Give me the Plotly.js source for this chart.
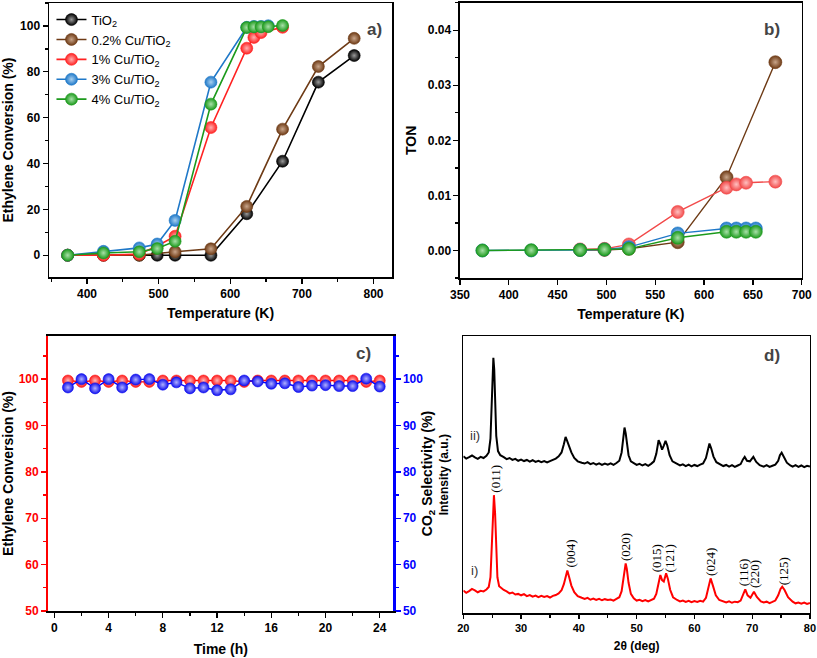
<!DOCTYPE html>
<html><head><meta charset="utf-8">
<script src="https://cdn.plot.ly/plotly-3.0.1.min.js"></script>
<style>html,body{margin:0;padding:0;background:#fff}#plot{width:817px;height:658px}</style>
</head><body><div id="plot"></div>
<script>
// ---------- Panel a: ethylene conversion vs temperature ----------
const seriesNames = ['TiO<sub>2</sub>', '0.2% Cu/TiO<sub>2</sub>', '1% Cu/TiO<sub>2</sub>', '3% Cu/TiO<sub>2</sub>', '4% Cu/TiO<sub>2</sub>'];
const tempTiO2 = [373, 423, 473, 498, 523, 573, 623, 673, 723, 773];
const convTiO2 = [0, 0, 0, 0, 0, 0, 18.1, 41, 75.5, 87.1];
const tempCu02 = [373, 423, 473, 523, 573, 623, 673, 723, 773];
const convCu02 = [0, 0, 0, 1.5, 2.8, 21.3, 55, 82.3, 94.6];
const tempCu1 = [373, 423, 473, 498, 523, 573, 623, 633, 643, 673];
const convCu1 = [0, 0, 0.5, 4, 8.3, 55.7, 90.3, 95, 97.1, 99.4];
const tempCu3 = [373, 423, 473, 498, 523, 573, 623, 633, 643, 653];
const convCu3 = [0, 1.7, 3.2, 4.9, 15.2, 75.5, 99.4, 99.8, 99.8, 100.1];
const tempCu4 = [373, 423, 473, 498, 523, 573, 623, 633, 643, 653, 673];
const convCu4 = [0, 1, 1.5, 2.9, 6.1, 65.9, 99.3, 99.6, 99.6, 99.7, 100.2];

// ---------- Panel b: TON vs temperature ----------
const tonTempCu02 = [473, 498, 523, 573, 623, 673];
const tonCu02 = [0.0001, 0.0001, 0.0003, 0.0015, 0.0133, 0.0342];
const tonTempCu1 = [473, 498, 523, 573, 623, 633, 643, 673];
const tonCu1 = [0.0002, 0.0003, 0.0011, 0.0070, 0.0114, 0.0120, 0.0123, 0.0125];
const tonTempCu3 = [373, 423, 473, 498, 523, 573, 623, 633, 643, 653];
const tonCu3 = [0, 0, 0.0001, 0.0002, 0.0006, 0.0031, 0.0040, 0.0040, 0.0040, 0.0040];
const tonTempCu4 = [373, 423, 473, 498, 523, 573, 623, 633, 643, 653];
const tonCu4 = [0, 0.00005, 0.0001, 0.0002, 0.0003, 0.0023, 0.0034, 0.0034, 0.0034, 0.0034];

// ---------- Panel c: stability over time ----------
const timeH = [1,2,3,4,5,6,7,8,9,10,11,12,13,14,15,16,17,18,19,20,21,22,23,24];
const convTime = [99.7,99.4,99.7,99.4,99.7,99.4,99.4,99.7,99.7,99.7,99.7,99.7,99.7,99.4,99.7,99.7,99.7,99.7,99.7,99.7,99.7,99.7,99.4,99.7];
const selTime = [98.2,100,98.0,100,98.2,99.9,100,98.8,99.3,98.0,98.2,97.6,97.8,99.7,99.5,99.0,99.1,98.3,98.6,98.7,98.5,98.5,100.1,98.4];

// ---------- Panel d: XRD patterns ----------
const twoThetaI = [20,20.5,21,21.5,22,22.5,23,23.5,24,24.4,24.7,24.9,25.1,25.3,25.5,25.7,25.9,26.2,26.6,27,27.5,28,28.5,29,29.5,30,30.5,31,31.5,32,32.5,33,33.5,34,34.5,35,35.5,36,36.5,37,37.4,37.7,38,38.3,38.7,39.2,39.8,40.5,41,41.5,42,42.5,43,43.5,44,44.5,45,45.5,46,46.5,47,47.4,47.7,47.9,48.1,48.3,48.6,49,49.5,50,50.5,51,51.5,52,52.5,53,53.4,53.8,54.1,54.4,54.7,55.1,55.4,55.8,56.3,57,57.5,58,58.5,59,59.5,60,60.5,61,61.5,62,62.4,62.8,63.2,63.7,64.3,65,65.5,66,66.5,67,67.5,68,68.5,68.8,69.2,69.7,70.3,70.8,71.5,72,72.5,73,73.5,74,74.5,74.9,75.2,75.6,76.2,77,77.5,78,78.5,79,79.5,80];
const intensityI = [8.2,7.4,8.0,8.8,8.3,7.6,8.1,7.9,8.6,9.5,13,22,36,42.6,36,22,13,9.8,8.9,8.4,7.9,7.2,7.5,6.8,7.0,6.5,6.9,6.2,6.6,6.0,6.4,5.8,6.3,5.9,6.2,5.7,6.3,6.6,7.2,8.3,10.5,13.5,15.4,13.2,10.0,7.6,6.2,5.6,5.2,5.6,4.9,5.3,4.8,5.2,4.7,5.1,4.8,5.0,4.6,5.2,5.8,8.0,12.5,16.5,18.0,16.0,11.0,7.0,5.4,4.6,4.9,4.4,4.8,4.3,4.9,5.3,7.0,11.5,13.8,12.0,11.5,14.4,12.5,8.5,5.8,4.8,4.3,4.6,4.1,4.5,4.0,4.4,4.1,4.5,4.2,5.6,8.8,12.6,10.0,6.5,4.8,4.2,3.9,4.3,3.8,4.2,4.0,4.6,7.0,8.6,6.5,5.6,7.8,5.9,4.3,3.9,4.2,3.7,4.1,4.6,6.5,8.8,9.6,8.4,5.8,4.2,3.6,3.9,3.5,3.9,3.4,3.7];
const twoThetaII = [20,20.5,21,21.5,22,22.5,23,23.5,24,24.4,24.7,24.9,25.05,25.2,25.35,25.5,25.7,26.0,26.4,27,27.5,28,28.5,29,29.5,30,30.5,31,31.5,32,32.5,33,33.5,34,34.5,35,35.5,36,36.5,37,37.4,37.7,38,38.3,38.7,39.2,39.8,40.5,41,41.5,42,42.5,43,43.5,44,44.5,45,45.5,46,46.5,47,47.4,47.7,47.9,48.1,48.3,48.6,49,49.5,50,50.5,51,51.5,52,52.5,53,53.4,53.8,54.1,54.4,54.7,55.0,55.3,55.7,56.2,57,57.5,58,58.5,59,59.5,60,60.5,61,61.5,62,62.3,62.6,62.9,63.3,63.8,64.5,65,65.5,66,66.5,67,67.5,68,68.4,68.7,69.1,69.6,70.2,70.7,71.3,72,72.5,73,73.5,74,74.5,74.8,75.1,75.5,76,76.6,77,77.5,78,78.5,79,79.5,80];
const intensityII = [56.6,55.8,56.3,56.9,56.2,55.7,56.4,56.0,56.8,58.0,63,75,88,92.1,88,76,64,58.5,57.0,56.3,55.6,56.0,55.3,55.7,55.0,55.4,54.9,55.3,54.7,55.2,54.6,55.0,54.5,54.9,54.4,54.9,55.3,55.8,56.6,58.0,61.0,63.6,62.0,60.0,58.0,56.0,54.8,54.3,54.0,54.5,53.8,54.2,53.6,54.1,53.5,54.0,53.6,54.1,53.5,54.2,55.0,58.0,63.5,67.0,65.0,61.0,57.0,54.8,54.0,53.5,53.9,53.3,53.8,53.2,53.9,54.8,57.5,62.4,61.0,59.0,60.5,62.2,60.5,57.0,54.8,53.9,53.3,53.7,53.1,53.6,53.0,53.5,53.1,53.6,54.0,56.0,59.0,61.2,59.5,56.5,54.5,53.6,53.1,53.5,52.9,53.4,52.8,53.3,53.8,55.5,56.4,55.0,54.8,56.4,54.6,53.4,52.9,53.4,52.8,53.2,53.6,55.0,57.0,57.9,56.5,54.3,53.3,52.9,53.4,52.8,53.3,52.7,53.2,52.9];
const millerLabels = ['(011)','(004)','(020)','(015)','(121)','(024)','(116)','(220)','(125)'];
const millerPos = [25.5, 38.5, 48.2, 53.5, 55.6, 62.9, 68.5, 70.5, 75.4];
const millerY = [48.6, 21.6, 24.0, 19.8, 19.8, 18.6, 14.6, 14.2, 15.3];

// ---------- styles ----------
const colA = ['#000000', '#6e3b16', '#ff2222', '#1f78c8', '#1c9a1c'];
const tintA = ['#9a9a9a', '#c9a58a', '#ffb0b0', '#a8d0f0', '#a8e0a8'];
const F = 'Liberation Sans, Arial, sans-serif';

function mk(color, tint, size) {
  return {size: size, color: color, gradient: {type: 'radial', color: tint}, line: {width: 0.6, color: color}};
}
const traces = [];
const aX = [tempTiO2, tempCu02, tempCu1, tempCu3, tempCu4];
const aY = [convTiO2, convCu02, convCu1, convCu3, convCu4];
for (let i = 0; i < 5; i++) {
  traces.push({x: aX[i], y: aY[i], name: seriesNames[i], type: 'scatter', mode: 'lines+markers',
    xaxis: 'x', yaxis: 'y', line: {color: colA[i], width: 1.6}, marker: mk(colA[i], tintA[i], 12), showlegend: true, legend: 'legend'});
}
const bX = [tonTempCu02, tonTempCu1, tonTempCu3, tonTempCu4];
const bY = [tonCu02, tonCu1, tonCu3, tonCu4];
const colB = ['#6e3b16', '#f24a4a', '#1f78c8', '#1c9a1c'];
const tintB = ['#c9a58a', '#ffc0c0', '#a8d0f0', '#a8e0a8'];
for (let i = 0; i < 4; i++) {
  traces.push({x: bX[i], y: bY[i], type: 'scatter', mode: 'lines+markers', xaxis: 'x2', yaxis: 'y2',
    line: {color: colB[i], width: 1.4}, marker: mk(colB[i], tintB[i], 13), showlegend: false});
}
traces.push({x: timeH, y: convTime, type: 'scatter', mode: 'lines+markers', xaxis: 'x3', yaxis: 'y3',
  line: {color: '#ff0000', width: 1.4}, marker: mk('#ff1a1a', '#ffb8b8', 11), showlegend: false});
traces.push({x: timeH, y: selTime, type: 'scatter', mode: 'lines+markers', xaxis: 'x3', yaxis: 'y4',
  line: {color: '#0000ff', width: 1.4}, marker: mk('#1010ee', '#b0b0ff', 11), showlegend: false});
traces.push({x: twoThetaII, y: intensityII, type: 'scatter', mode: 'lines', xaxis: 'x4', yaxis: 'y5',
  line: {color: '#000000', width: 2}, showlegend: false});
traces.push({x: twoThetaI, y: intensityI, type: 'scatter', mode: 'lines', xaxis: 'x4', yaxis: 'y5',
  line: {color: '#ff0000', width: 2}, showlegend: false});

const tf = (s, c) => ({family: F, size: s, color: c || '#000', weight: 'bold'});
function ax(o) {
  return Object.assign({showgrid: false, zeroline: false, showline: true, linecolor: '#000', linewidth: 1.5,
    ticks: 'outside', ticklen: 5, tickwidth: 1.3, tickcolor: '#000', mirror: true, tickfont: tf(12)}, o);
}
const annotations = [
  {text: 'a)', x: 0.458, y: 0.972, xref: 'paper', yref: 'paper', showarrow: false, font: {family: F, size: 17, weight: 'bold'}},
  {text: 'b)', x: 0.957, y: 0.972, xref: 'paper', yref: 'paper', showarrow: false, font: {family: F, size: 17, weight: 'bold'}},
  {text: 'c)', x: 0.445, y: 0.463, xref: 'paper', yref: 'paper', showarrow: false, font: {family: F, size: 17, weight: 'bold'}},
  {text: 'd)', x: 0.957, y: 0.459, xref: 'paper', yref: 'paper', showarrow: false, font: {family: F, size: 17, weight: 'bold'}},
  {text: 'ii)', x: 22, y: 64.2, xref: 'x4', yref: 'y5', showarrow: false, font: {family: F, size: 13, color: '#333'}},
  {text: 'i)', x: 21.9, y: 15.3, xref: 'x4', yref: 'y5', showarrow: false, font: {family: F, size: 13, color: '#333'}}
];
for (let i = 0; i < millerLabels.length; i++) {
  annotations.push({text: millerLabels[i], x: millerPos[i], y: millerY[i], xref: 'x4', yref: 'y5', showarrow: false,
    textangle: -90, font: {family: 'Liberation Serif, Times New Roman, serif', size: 13, color: '#000'}});
}

const layout = {
  width: 817, height: 658, margin: {l: 0, r: 0, t: 0, b: 0}, paper_bgcolor: '#fff', plot_bgcolor: '#fff',
  font: {family: F},
  showlegend: true,
  legend: {x: 0.063, y: 0.993, xanchor: 'left', yanchor: 'top', bgcolor: 'rgba(0,0,0,0)', font: {family: F, size: 13, color: '#000'},
    itemwidth: 30, tracegroupgap: 0},
  xaxis: ax({domain: [0.060, 0.480], anchor: 'y', range: [347, 826], dtick: 100, tick0: 0, minor: {dtick: 50, ticklen: 3, ticks: 'outside', tickcolor: '#000'},
    title: {text: 'Temperature (K)', font: tf(14), standoff: 8}}),
  yaxis: ax({domain: [0.579, 0.9954], anchor: 'x', range: [-9.5, 110], dtick: 20, minor: {dtick: 10, ticklen: 3, ticks: 'outside', tickcolor: '#000'},
    title: {text: 'Ethylene Conversion (%)', font: tf(14), standoff: 6}}),
  xaxis2: ax({domain: [0.5630, 0.9813], anchor: 'y2', range: [350, 700], dtick: 50,
    title: {text: 'Temperature (K)', font: tf(14), standoff: 8}}),
  yaxis2: ax({domain: [0.5775, 0.9959], anchor: 'x2', range: [-0.005, 0.045], dtick: 0.01, tickformat: '.2f',
    minor: {dtick: 0.005, ticklen: 3, ticks: 'outside', tickcolor: '#000'},
    title: {text: 'TON', font: tf(14), standoff: 8}}),
  xaxis3: ax({domain: [0.0591, 0.4814], anchor: 'y3', range: [-0.45, 25], dtick: 4, minor: {dtick: 2, ticklen: 3, ticks: 'outside', tickcolor: '#000'},
    title: {text: 'Time (h)', font: tf(14), standoff: 10}}),
  yaxis3: ax({domain: [0.0714, 0.4894], anchor: 'x3', range: [50, 109.3], dtick: 10, mirror: false, linecolor: '#ff0000', linewidth: 2.2,
    tickcolor: '#ff0000', tickfont: tf(12, '#ff0000'), minor: {dtick: 5, ticklen: 3, ticks: 'outside', tickcolor: '#ff0000'},
    title: {text: 'Ethylene Conversion (%)', font: tf(14), standoff: 6}}),
  yaxis4: ax({overlaying: 'y3', side: 'right', anchor: 'x3', range: [50, 109.3], dtick: 10, mirror: false, linecolor: '#0000ff', linewidth: 2.2,
    tickcolor: '#0000ff', tickfont: tf(12, '#0000ff'), minor: {dtick: 5, ticklen: 3, ticks: 'outside', tickcolor: '#0000ff'},
    title: {text: 'CO<sub>2</sub> Selectivity (%)', font: tf(14), standoff: 0}}),
  xaxis4: ax({domain: [0.5671, 0.9914], anchor: 'y5', range: [20, 80], dtick: 10, linewidth: 1.3, tickfont: tf(11),
    minor: {dtick: 5, ticklen: 3, ticks: 'outside', tickcolor: '#000'}, ticklen: 4,
    title: {text: '2θ (deg)', font: tf(12), standoff: 8}}),
  yaxis5: ax({domain: [0.0679, 0.4894], anchor: 'x4', range: [0, 100], showticklabels: false, ticks: '', linewidth: 1.3,
    title: {text: 'Intensity (a.u.)', font: tf(12), standoff: 10}}),
  annotations: annotations
};
Plotly.newPlot('plot', traces, layout, {displayModeBar: false, staticPlot: true});
</script></body></html>
